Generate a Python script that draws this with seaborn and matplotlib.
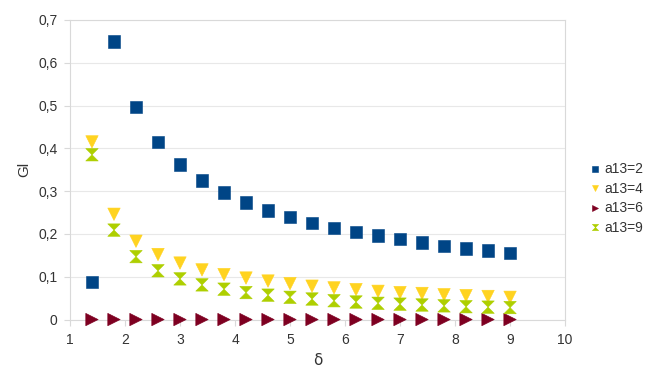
import numpy as np
import pandas as pd
import matplotlib
matplotlib.use("Agg")
import matplotlib.pyplot as plt
from matplotlib.path import Path
import seaborn as sns

# --- data ---
delta = [1.4, 1.8, 2.2, 2.6, 3.0, 3.4, 3.8, 4.2, 4.6, 5.0,
         5.4, 5.8, 6.2, 6.6, 7.0, 7.4, 7.8, 8.2, 8.6, 9.0]
gl_a13_2 = [0.088, 0.650, 0.497, 0.415, 0.362, 0.325, 0.297, 0.273, 0.255, 0.240,
            0.226, 0.214, 0.205, 0.196, 0.188, 0.180, 0.172, 0.166, 0.161, 0.155]
gl_a13_4 = [0.415, 0.246, 0.183, 0.152, 0.132, 0.116, 0.105, 0.097, 0.090, 0.084,
            0.078, 0.074, 0.070, 0.066, 0.063, 0.061, 0.058, 0.056, 0.054, 0.052]
gl_a13_6 = [0.0] * 20
gl_a13_9 = [0.385, 0.209, 0.147, 0.114, 0.095, 0.081, 0.071, 0.063, 0.057, 0.052,
            0.048, 0.044, 0.041, 0.038, 0.036, 0.034, 0.032, 0.030, 0.029, 0.028]
series_names = ["a13=2", "a13=4", "a13=6", "a13=9"]
x_ticks = [1, 2, 3, 4, 5, 6, 7, 8, 9, 10]
y_ticks = [0, 0.1, 0.2, 0.3, 0.4, 0.5, 0.6, 0.7]
y_labels = ["0", "0,1", "0,2", "0,3", "0,4", "0,5", "0,6", "0,7"]

df = pd.concat([
    pd.DataFrame({"delta": delta, "Gl": vals, "series": name})
    for name, vals in zip(series_names, [gl_a13_2, gl_a13_4, gl_a13_6, gl_a13_9])
])

colors = {"a13=2": "#004586", "a13=4": "#ffd320", "a13=6": "#7e0021", "a13=9": "#aecf00"}
hourglass = Path([(-1, 1), (1, 1), (-1, -1), (1, -1), (-1, 1)],
                 [Path.MOVETO, Path.LINETO, Path.LINETO, Path.LINETO, Path.CLOSEPOLY])
markers = {"a13=2": "s", "a13=4": "v", "a13=6": ">", "a13=9": hourglass}

sns.set_theme(style="white")
plt.rcParams["font.family"] = ["Liberation Sans", "DejaVu Sans"]

fig = plt.figure(figsize=(6.48, 3.69), dpi=100)
ax = fig.add_axes([0.108, 0.134, 0.764, 0.812])

sns.scatterplot(data=df, x="delta", y="Gl", hue="series", style="series",
                palette=colors, markers=markers, s=80, linewidth=0.4,
                edgecolor="face", ax=ax, legend=True, clip_on=False, zorder=3)

ax.set_xlim(1, 10)
ax.set_ylim(0, 0.7)
ax.set_xticks(x_ticks)
ax.set_xticklabels([str(t) for t in x_ticks])
ax.set_yticks(y_ticks)
ax.set_yticklabels(y_labels)
ax.yaxis.grid(True, color="#e8e8e8", linewidth=0.8)
ax.set_axisbelow(True)
for sp in ax.spines.values():
    sp.set_color("#d9d9d9")
    sp.set_linewidth(0.8)
ax.tick_params(axis="both", labelsize=10, colors="#333333", length=4, width=0.8,
               color="#d9d9d9", bottom=True, left=True)
ax.tick_params(axis="x", pad=6)
ax.tick_params(axis="y", pad=5)
ax.set_xlabel("δ", fontsize=11, color="#333333", labelpad=4, family=["DejaVu Sans"])
ax.set_ylabel("Gl", fontsize=11, color="#333333", labelpad=5)

handles, labels = ax.get_legend_handles_labels()
ax.legend(handles, labels, loc="upper left", bbox_to_anchor=(0.9, 0.575),
          bbox_transform=fig.transFigure, frameon=False, fontsize=10,
          handletextpad=0.2, labelspacing=0.4, markerscale=0.5,
          borderaxespad=0, handlelength=0.9, labelcolor="#333333")

fig.savefig("out.png", dpi=100)
